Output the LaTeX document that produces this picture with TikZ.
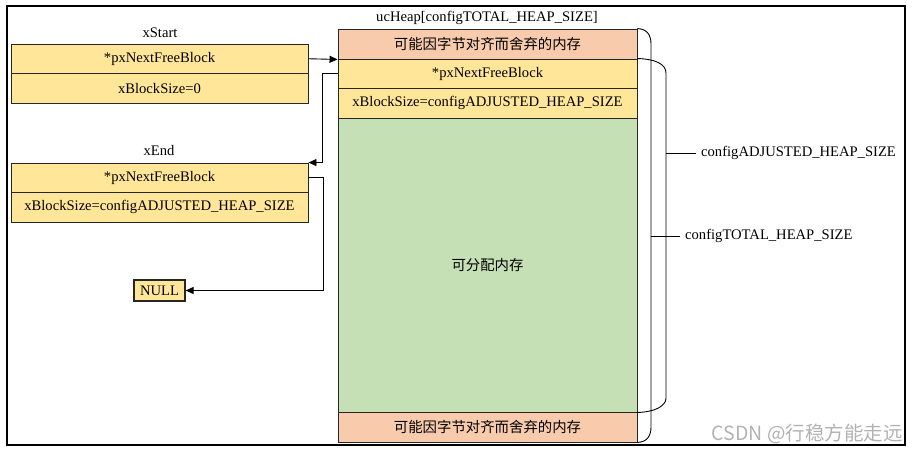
\documentclass[tikz,border=0pt]{standalone}
\usepackage{fontspec}
\setmainfont{Liberation Serif}
\newfontfamily\cjk{Noto Sans CJK SC}
\usetikzlibrary{arrows.meta}
\definecolor{cellY}{RGB}{255,230,153}
\definecolor{cellP}{RGB}{248,203,173}
\definecolor{cellG}{RGB}{197,224,180}
\begin{document}
\begin{tikzpicture}[x=1pt,y=-1pt,
 cell/.style={draw=black!85, line width=0.9pt, minimum width=297pt, minimum height=29.5pt, inner sep=0pt, fill=cellY, font=\fontsize{14.6}{16}\selectfont},
 hcell/.style={cell, minimum width=299pt},
 pcell/.style={hcell, fill=cellP, font=\cjk\fontsize{14.4}{16}\selectfont},
 lbl/.style={font=\fontsize{14.6}{16}\selectfont, inner sep=0pt},
 arr/.style={line width=0.9pt, -{Triangle[length=8pt,width=7pt]}},
 brace/.style={line width=0.9pt}]
\useasboundingbox (0,0) rectangle (917,455);
% outer frame
\draw[line width=2.2pt] (7,6) rectangle (905,445);
% labels
\node[lbl] (lxs) at (160,33) {xStart};
\node[lbl] (lxe) at (159,151) {xEnd};
\node[lbl] (luc) at (487,18) {ucHeap[configTOTAL\_HEAP\_SIZE]};
% xStart
\node[cell] (xs1) at (159.5,58.75) {*pxNextFreeBlock};
\node[cell] (xs2) at (159.5,88.25) {xBlockSize=0};
% xEnd
\node[cell] (xe1) at (159.5,177.75) {*pxNextFreeBlock};
\node[cell] (xe2) at (159.5,207.25) {xBlockSize=configADJUSTED\_HEAP\_SIZE};
% NULL
\node[cell, minimum width=51pt, minimum height=21pt, line width=1.2pt] (null) at (159.5,290.5) {NULL};
% heap
\node[pcell, minimum height=30pt] (h1) at (487.5,44) {可能因字节对齐而舍弃的内存};
\node[hcell, minimum height=29pt] (h2) at (487.5,73.5) {*pxNextFreeBlock};
\node[hcell, minimum height=30pt] (h3) at (487.5,103) {xBlockSize=configADJUSTED\_HEAP\_SIZE};
\node[hcell, fill=cellG, minimum height=294pt, font=\cjk\fontsize{14.4}{16}\selectfont] (h4) at (487.5,265) {可分配内存};
\node[pcell, minimum height=30pt] (h5) at (487.5,427) {可能因字节对齐而舍弃的内存};
% connectors
\draw[arr] (xs1.east) -- (h1.south west);
\draw[arr] (h2.west) -- ++(-15,0) |- (xe1.north east);
\draw[arr] (xe1.east) -- ++(15,0) |- (null.east);
% braces
\draw[brace] (h1.north east) .. controls (647,29) and (651,35) .. (651,44) -- (651,427) .. controls (651,436) and (647,442) .. (h5.south east);
\draw[brace] (h2.north east) .. controls (655,59) and (666,64) .. (666,73) -- (666,398) .. controls (666,406) and (655,412) .. (h4.south east);
\coordinate (tt) at (651,236);
\coordinate (ta) at (666,153);
\node[lbl, anchor=west] (ltot) at (685,236) {configTOTAL\_HEAP\_SIZE};
\node[lbl, anchor=west] (ladj) at (701,153) {configADJUSTED\_HEAP\_SIZE};
\draw[brace] (tt) -- (ltot.west -| 680,0);
\draw[brace] (ta) -- (ladj.west -| 696,0);
% watermark
\node[anchor=east, inner sep=0pt, text=black!30, font=\cjk\fontsize{19.5}{20}\selectfont] (wm) at (903,434) {CSDN @行稳方能走远};
\end{tikzpicture}
\end{document}
